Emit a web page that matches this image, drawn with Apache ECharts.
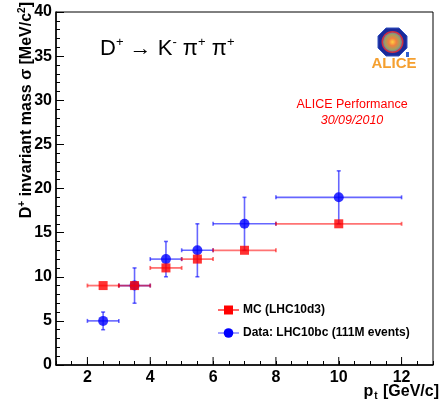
<!DOCTYPE html>
<html>
<head>
<meta charset="utf-8">
<script src="https://cdn.jsdelivr.net/npm/echarts@6/dist/echarts.min.js"></script>
<style>html,body{margin:0;padding:0;background:#fff;}#c{width:441px;height:402px;}</style>
</head>
<body>
<div id="c"></div>
<script>
const ptCenters = [2.5, 3.5, 4.5, 5.5, 7, 10];
const ptHalfWidths = [0.5, 0.5, 0.5, 0.5, 1, 2];
const mcSigma = [9, 9, 11, 12, 13, 16];
const mcErr = [0.15, 0.15, 0.15, 0.15, 0.15, 0.15];
const dataSigma = [5, 9, 12, 13, 16, 19];
const dataErr = [1, 2, 2, 3, 3, 3];
const xMajorTicks = [2, 4, 6, 8, 10, 12];

const FONT = 'Liberation Sans, Arial, Helvetica, sans-serif';

function rows(ys, es) {
  return ptCenters.map((x, i) => [x, ys[i], ptHalfWidths[i], es[i]]);
}

function errRender(color, width) {
  return function (params, api) {
    const x = api.value(0), y = api.value(1), w = api.value(2), e = api.value(3);
    const l = api.coord([x - w, y]), r = api.coord([x + w, y]);
    const t = api.coord([x, y + e]), b = api.coord([x, y - e]);
    const st = { stroke: color, lineWidth: width };
    const cap = 2;
    const ch = [
      { type: 'line', shape: { x1: l[0], y1: l[1], x2: r[0], y2: r[1] }, style: st },
      { type: 'line', shape: { x1: l[0], y1: l[1] - cap, x2: l[0], y2: l[1] + cap }, style: st },
      { type: 'line', shape: { x1: r[0], y1: r[1] - cap, x2: r[0], y2: r[1] + cap }, style: st }
    ];
    if (Math.abs(t[1] - b[1]) > 3) {
      ch.push({ type: 'line', shape: { x1: t[0], y1: t[1], x2: b[0], y2: b[1] }, style: st });
      ch.push({ type: 'line', shape: { x1: t[0] - cap, y1: t[1], x2: t[0] + cap, y2: t[1] }, style: st });
      ch.push({ type: 'line', shape: { x1: b[0] - cap, y1: b[1], x2: b[0] + cap, y2: b[1] }, style: st });
    }
    return { type: 'group', children: ch };
  };
}

const chart = echarts.init(document.getElementById('c'));
chart.setOption({
  animation: false,
  backgroundColor: '#fff',
  grid: { left: 56, right: 8, top: 12, bottom: 37, show: true, borderColor: '#000', borderWidth: 1, backgroundColor: 'transparent' },
  xAxis: {
    type: 'value', min: 1, max: 13, interval: 0.5,
    axisLine: { show: true, lineStyle: { color: '#000', width: 1.5 } },
    axisTick: { show: true, inside: true, length: 4, lineStyle: { color: '#000', width: 1 } },
    splitLine: { show: false },
    axisLabel: {
      color: '#000', fontSize: 16, fontWeight: 'bold', fontFamily: FONT, margin: 5,
      formatter: v => (Math.abs(v % 2) < 1e-9 ? String(v) : '')
    }
  },
  yAxis: {
    type: 'value', min: 0, max: 40, interval: 5,
    axisLine: { show: true, lineStyle: { color: '#000', width: 1.5 } },
    axisTick: { show: true, inside: true, length: 8, lineStyle: { color: '#000', width: 1 } },
    minorTick: { show: true, splitNumber: 5, length: 4, lineStyle: { color: '#000', width: 1 } },
    splitLine: { show: false },
    axisLabel: { color: '#000', fontSize: 16, fontWeight: 'bold', fontFamily: FONT, margin: 4 }
  },
  series: [
    {
      type: 'custom', name: 'xticks', silent: true,
      data: xMajorTicks.map(v => [v]),
      renderItem: function (params, api) {
        const p = api.coord([api.value(0), 0]);
        return { type: 'line', shape: { x1: p[0], y1: p[1], x2: p[0], y2: p[1] - 8 }, style: { stroke: '#000', lineWidth: 1 } };
      },
      z: 1
    },
    {
      type: 'custom', name: 'Data err', silent: true,
      data: rows(dataSigma, dataErr),
      renderItem: errRender('rgba(0,0,255,0.6)', 1.6), z: 2
    },
    {
      type: 'scatter', name: 'Data: LHC10bc (111M events)', symbol: 'circle', symbolSize: 10,
      itemStyle: { color: '#0000ff' },
      data: ptCenters.map((x, i) => [x, dataSigma[i]]), z: 3
    },
    {
      type: 'custom', name: 'MC err', silent: true,
      data: rows(mcSigma, mcErr),
      renderItem: errRender('rgba(255,0,0,0.55)', 1.8), z: 4
    },
    {
      type: 'scatter', name: 'MC (LHC10d3)', symbol: 'rect', symbolSize: 9,
      itemStyle: { color: '#ff0000' },
      data: ptCenters.map((x, i) => [x, mcSigma[i]]), z: 5
    }
  ],
  graphic: [
    {
      type: 'text', left: 100, top: 36,
      style: {
        text: 'D{sup|+} → K{sup|-} π{sup|+} π{sup|+}',
        font: '22px ' + FONT, fill: '#000',
        rich: { sup: { fontSize: 13, fontFamily: FONT, padding: [0, 0, 12, 0] } }
      }
    },
    {
      type: 'text', x: 27, y: 2, rotation: Math.PI / 2,
      style: {
        text: 'D{sup|+} invariant mass σ [MeV/c{sup|2}]',
        font: 'bold 16px ' + FONT, fill: '#000', align: 'right', verticalAlign: 'middle',
        rich: { sup: { fontSize: 10, fontWeight: 'bold', fontFamily: FONT, padding: [0, 0, 10, 0] } }
      }
    },
    {
      type: 'text', x: 439, y: 392,
      style: {
        text: 'p{sub|t} [GeV/c]',
        font: 'bold 16px ' + FONT, fill: '#000', align: 'right', verticalAlign: 'middle',
        rich: { sub: { fontSize: 10, fontWeight: 'bold', fontFamily: FONT, padding: [9, 1, 0, 1] } }
      }
    },
    {
      type: 'text', x: 352, y: 105,
      style: { text: 'ALICE Performance', font: '12.5px ' + FONT, fill: '#ff0000', align: 'center', verticalAlign: 'middle' }
    },
    {
      type: 'text', x: 352, y: 121,
      style: { text: '30/09/2010', font: 'italic 12.5px ' + FONT, fill: '#ff0000', align: 'center', verticalAlign: 'middle' }
    },
    {
      type: 'polygon',
      shape: { points: [[386, 28], [399, 28], [407, 36], [407, 48], [399, 56], [386, 56], [378, 48], [378, 36]] },
      style: { fill: '#1a2a9a', stroke: '#3050c0', lineWidth: 1 }
    },
    {
      type: 'circle', shape: { cx: 392.5, cy: 42, r: 11 },
      style: { fill: '#d03040' }
    },
    {
      type: 'circle', shape: { cx: 392.5, cy: 42, r: 9.5 },
      style: {
        fill: { type: 'radial', x: 0.5, y: 0.5, r: 0.5, colorStops: [
          { offset: 0, color: '#ffd040' }, { offset: 0.4, color: '#f08040' }, { offset: 0.8, color: '#a0a060' }, { offset: 1, color: '#7080a0' }] }
      }
    },
    {
      type: 'rect', shape: { x: 406, y: 52, width: 3, height: 5 }, style: { fill: '#3060d0' }
    },
    {
      type: 'text', x: 394, y: 64,
      style: { text: 'ALICE', font: 'bold 15px ' + FONT, fill: '#f5a030', align: 'center', verticalAlign: 'middle' }
    },
    {
      type: 'line', shape: { x1: 218, y1: 310, x2: 239, y2: 310 }, style: { stroke: '#ff0000', lineWidth: 1.2 }
    },
    {
      type: 'rect', shape: { x: 224, y: 305.5, width: 9, height: 9 }, style: { fill: '#ff0000' }
    },
    {
      type: 'text', x: 243, y: 310,
      style: { text: 'MC (LHC10d3)', font: 'bold 12px ' + FONT, fill: '#000', verticalAlign: 'middle' }
    },
    {
      type: 'line', shape: { x1: 218, y1: 333, x2: 239, y2: 333 }, style: { stroke: 'rgba(0,0,255,0.6)', lineWidth: 1.2 }
    },
    {
      type: 'circle', shape: { cx: 228.5, cy: 333, r: 4.8 }, style: { fill: '#0000ff' }
    },
    {
      type: 'text', x: 243, y: 333,
      style: { text: 'Data: LHC10bc (111M events)', font: 'bold 12px ' + FONT, fill: '#000', verticalAlign: 'middle' }
    }
  ]
});
</script>
</body>
</html>
